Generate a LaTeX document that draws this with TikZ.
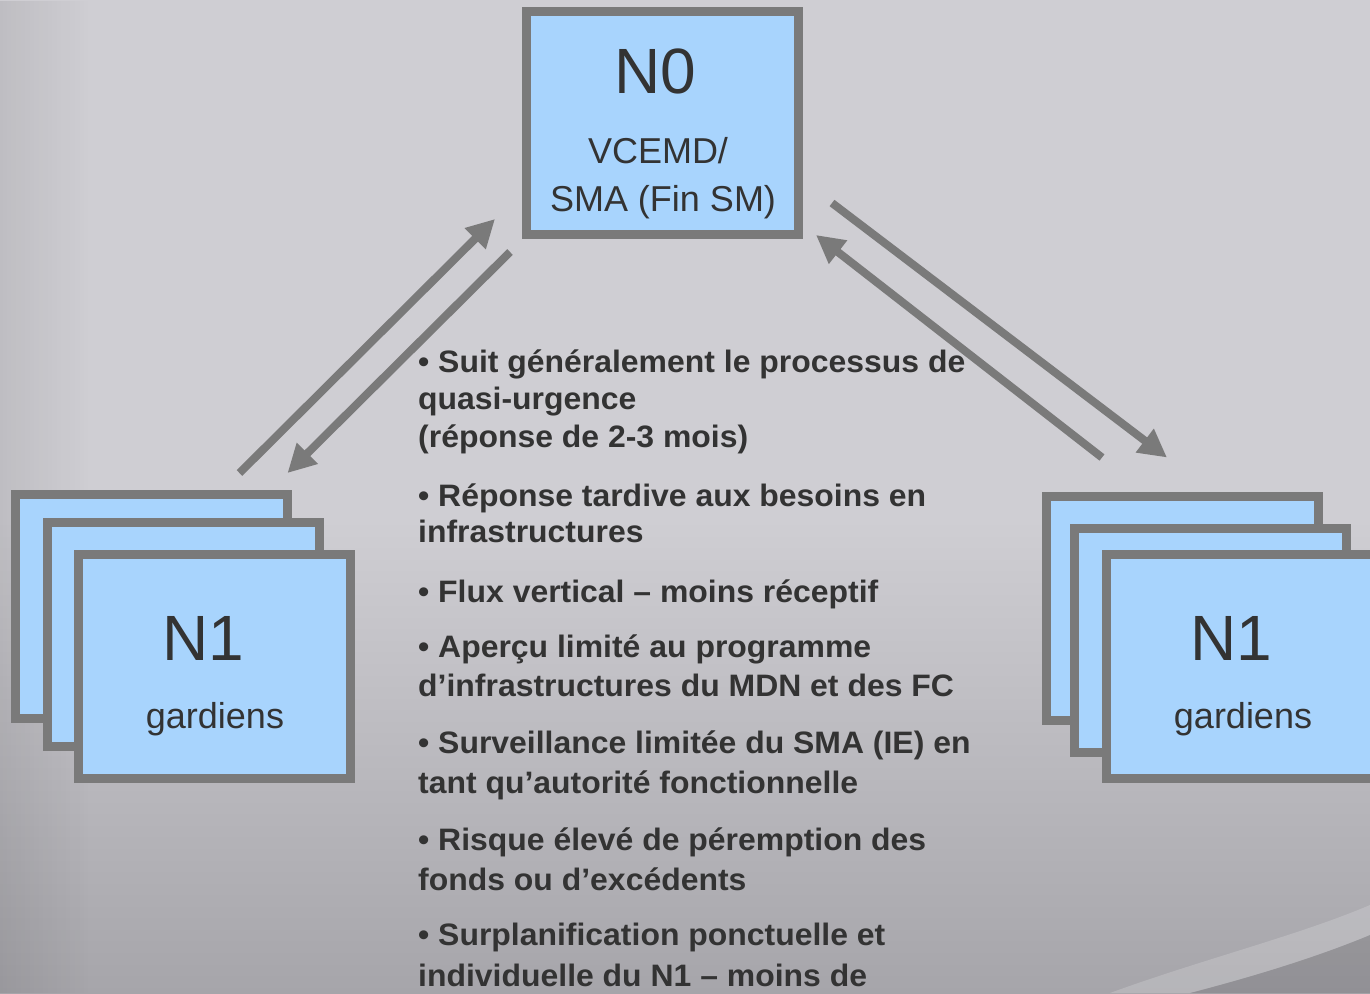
\documentclass[tikz,border=0pt]{standalone}
\usepackage{fontspec}
\setmainfont{Liberation Sans}
\newfontfamily\bulletfont[FakeStretch=1.03]{Liberation Sans}
\usetikzlibrary{arrows.meta,calc,fadings}
\definecolor{bgtop}{HTML}{CFCED3}
\definecolor{bgbot}{HTML}{A6A5AA}
\definecolor{boxblue}{HTML}{A8D4FD}
\definecolor{edgegray}{HTML}{7A7A7A}
\definecolor{txt}{HTML}{333333}
\begin{document}
\begin{tikzpicture}[x=1pt,y=-1pt,
  lvlbox/.style={rectangle, draw=edgegray, line width=9pt, fill=boxblue,
    minimum width=272pt, minimum height=224pt, inner sep=0pt, outer sep=4.5pt},
  flow/.style={draw=edgegray, line width=8pt, -{Triangle[length=28pt,width=28pt]}},
  big/.style={anchor=base, inner sep=0pt, text=txt, font=\fontsize{64}{70}\selectfont},
  sub/.style={anchor=base, inner sep=0pt, text=txt, font=\fontsize{36}{43}\selectfont},
  bl/.style={anchor=base west, inner sep=0pt, text=txt, font=\bulletfont\bfseries\fontsize{31}{37}\selectfont}]
% background
\useasboundingbox (0,0) rectangle (1370,993);
\fill[bgtop] (0,0) rectangle (1370,520);
\fill[top color=bgtop, bottom color=bgbot] (0,519) rectangle (1370,993);
\fill[black, fill opacity=0.08, path fading=east] (0,0) rectangle (90,993);
% faint swoosh, bottom right
\fill[white, fill opacity=0.18] (1110,993) .. controls (1200,960) and (1300,935) .. (1370,905)
  -- (1370,935) .. controls (1310,960) and (1240,980) .. (1190,993) -- cycle;
\fill[black, fill opacity=0.12] (1190,993) .. controls (1240,980) and (1310,960) .. (1370,935)
  -- (1370,993) -- cycle;

% N0
\node[lvlbox, minimum height=223pt] (N0) at (662.5,123) {};
\node[big] (n0t) at (655,93) {N0};
\node[sub] (n0a) at (658,163) {VCEMD/};
\node[sub] (n0b) at (663,211) {SMA (Fin SM)};

% left stack
\node[lvlbox] (L1) at (151,606.5) {};
\node[lvlbox] (L2) at (183.5,634.5) {};
\node[lvlbox] (L3) at (214.5,666.5) {};
\node[big] (l3t) at (203,660) {N1};
\node[sub] (l3a) at (215,728) {gardiens};

% right stack
\node[lvlbox] (R1) at (1182.5,608) {};
\node[lvlbox] (R2) at (1210,640) {};
\node[lvlbox] (R3) at (1242.5,666.5) {};
\node[big] (r3t) at (1231,660) {N1};
\node[sub] (r3a) at (1243,728) {gardiens};

% arrows
\draw[flow] ($(L1.north east)+(-52,-17)$) -- ($(N0.south west)+(-27,-20)$);
\draw[flow] ($(N0.south west)+(-12,13)$) -- ($(L1.north east)+(-4,-17)$);
\draw[flow] ($(N0.south east)+(29,-36)$) -- ($(R1.north east)+(-156,-34)$);
\draw[flow] ($(R1.north west)+(60,-34)$) -- ($(N0.south east)+(13,-4)$);

% bullet text
\node[bl] (t1) at (418,372) {• Suit généralement le processus de};
\node[bl] (t2) at (418,409) {quasi-urgence};
\node[bl] (t3) at (418,447) {(réponse de 2-3 mois)};
\node[bl] (t4) at (418,506) {• Réponse tardive aux besoins en};
\node[bl] (t5) at (418,542) {infrastructures};
\node[bl] (t6) at (418,602) {• Flux vertical – moins réceptif};
\node[bl] (t7) at (418,657) {• Aperçu limité au programme};
\node[bl] (t8) at (418,696) {d’infrastructures du MDN et des FC};
\node[bl] (t9) at (418,753) {• Surveillance limitée du SMA (IE) en};
\node[bl] (t10) at (418,793) {tant qu’autorité fonctionnelle};
\node[bl] (t11) at (418,850) {• Risque élevé de péremption des};
\node[bl] (t12) at (418,890) {fonds ou d’excédents};
\node[bl] (t13) at (418,945) {• Surplanification ponctuelle et};
\node[bl] (t14) at (418,986) {individuelle du N1 – moins de};
\end{tikzpicture}
\end{document}
